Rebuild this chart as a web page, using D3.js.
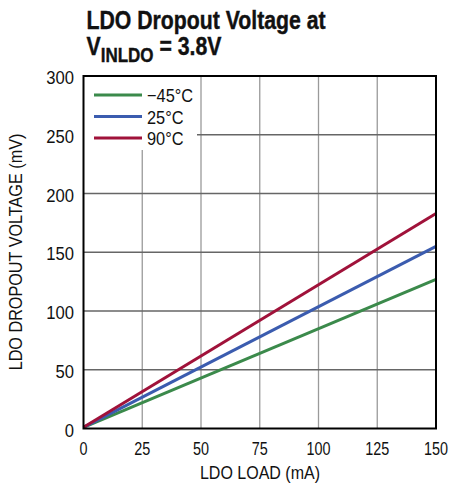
<!DOCTYPE html>
<html><head><meta charset="utf-8">
<script src="https://cdn.jsdelivr.net/npm/d3@7"></script>
<style>
body{margin:0;background:#fff;}
text{font-family:"Liberation Sans","Arial",sans-serif;}
</style></head>
<body><svg id="c" width="452" height="489"></svg>
<script>
const loads = [0, 150];
const seriesNames = ["\u221245\u00b0C", "25\u00b0C", "90\u00b0C"];
const vMinus45 = [1, 127];
const v25 = [1, 155];
const v90 = [1, 183];
const xTicks = [0, 25, 50, 75, 100, 125, 150];
const yTicks = [0, 50, 100, 150, 200, 250, 300];
const colors = ["#3b8a4b", "#3b5caf", "#a0123a"];

const svg = d3.select("#c");
const L = 83.5, R = 436, T = 76, B = 428.5;
const x = d3.scaleLinear().domain([0,150]).range([L,R]);
const y = d3.scaleLinear().domain([0,300]).range([B,T]);

function condense(sel, f){
  sel.each(function(){
    const w = this.getComputedTextLength();
    d3.select(this).attr("textLength", w*f).attr("lengthAdjust","spacingAndGlyphs");
  });
}

// grid
svg.append("g").selectAll("line").data(xTicks.slice(1,-1)).join("line")
  .attr("x1",d=>x(d)).attr("x2",d=>x(d)).attr("y1",T).attr("y2",B)
  .attr("stroke","#9a9a9a").attr("stroke-width",1.3);
svg.append("g").selectAll("line").data(yTicks.slice(1,-1)).join("line")
  .attr("x1",L).attr("x2",R).attr("y1",d=>y(d)).attr("y2",d=>y(d))
  .attr("stroke","#666").attr("stroke-width",1.3);

// legend box background
svg.append("rect").attr("x",L).attr("y",T).attr("width",197-L).attr("height",150-T).attr("fill","#fff");

// lines
const data = [vMinus45, v25, v90];
const line = d3.line().x((d,i)=>x(loads[i])).y(d=>y(d));
svg.append("g").selectAll("path").data(data).join("path")
  .attr("d",d=>line(d)).attr("fill","none")
  .attr("stroke",(d,i)=>colors[i]).attr("stroke-width",3);

// frame
svg.append("rect").attr("x",L).attr("y",T).attr("width",R-L).attr("height",B-T)
  .attr("fill","none").attr("stroke","#000").attr("stroke-width",2);

// tick labels
svg.append("g").selectAll("text").data(xTicks).join("text")
  .attr("transform",d=>`translate(${x(d)},455) scale(0.8,1)`).attr("text-anchor","middle")
  .attr("font-size",18).attr("fill","#111").text(d=>d);
const yt = svg.append("g").selectAll("text").data(yTicks).join("text")
  .attr("x",74).attr("y",d=>y(d)+8).attr("text-anchor","end")
  .attr("font-size",17.5).attr("fill","#111").text(d=>d);
condense(yt, 0.95);

const xl = svg.append("text").attr("x",260).attr("y",479).attr("text-anchor","middle")
  .attr("font-size",18).attr("fill","#111").text("LDO LOAD (mA)");
condense(xl, 0.89);
const yl = svg.append("text").attr("transform",`translate(22,252) rotate(-90)`)
  .attr("text-anchor","middle").attr("font-size",18).attr("fill","#111")
  .text("LDO DROPOUT VOLTAGE (mV)");
condense(yl, 0.9);

// legend
const lg = svg.append("g").selectAll("g").data(seriesNames).join("g");
lg.append("line").attr("x1",94).attr("x2",142).attr("y1",(d,i)=>95+i*21.5).attr("y2",(d,i)=>95+i*21.5)
  .attr("stroke",(d,i)=>colors[i]).attr("stroke-width",3);
const lt = lg.append("text").attr("x",147).attr("y",(d,i)=>102+i*21.5).attr("font-size",19).attr("fill","#111").text(d=>d);
condense(lt, 0.86);

// title
const tg = svg.append("g").attr("transform","translate(86.5,0) scale(0.85,1)");
tg.append("text").attr("x",0).attr("y",29).attr("font-size",25).attr("font-weight","bold").attr("fill","#111")
  .attr("stroke","#111").attr("stroke-width",0.4)
  .text("LDO Dropout Voltage at");
const t2 = tg.append("text").attr("x",0).attr("y",55).attr("font-size",25).attr("font-weight","bold").attr("fill","#111")
  .attr("stroke","#111").attr("stroke-width",0.4);
t2.append("tspan").text("V");
t2.append("tspan").attr("font-size",20).attr("dy",7).text("INLDO");
t2.append("tspan").attr("dy",-7).text(" = 3.8V");
</script></body></html>
